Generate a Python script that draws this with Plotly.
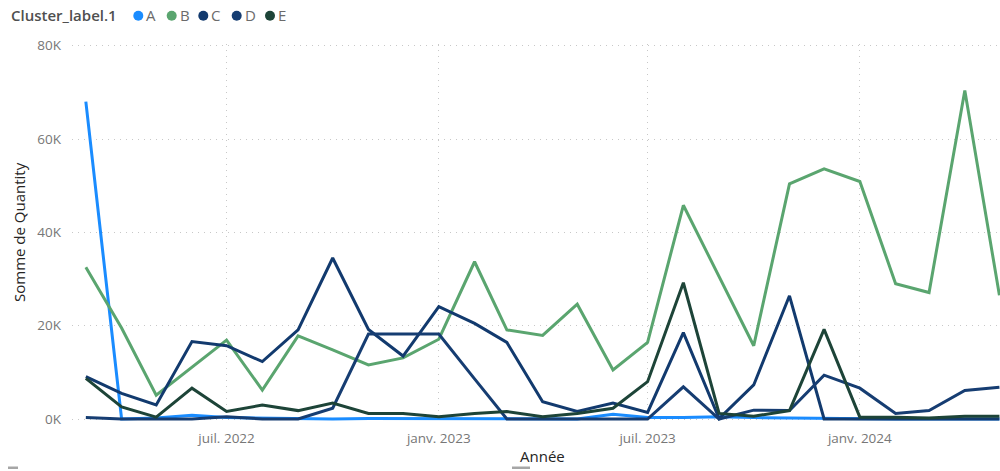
import plotly.graph_objects as go

# Monthly periods (first day of each month)
months = [
    "2022-03-01", "2022-04-01", "2022-05-01", "2022-06-01", "2022-07-01",
    "2022-08-01", "2022-09-01", "2022-10-01", "2022-11-01", "2022-12-01",
    "2023-01-01", "2023-02-01", "2023-03-01", "2023-04-01", "2023-05-01",
    "2023-06-01", "2023-07-01", "2023-08-01", "2023-09-01", "2023-10-01",
    "2023-11-01", "2023-12-01", "2024-01-01", "2024-02-01", "2024-03-01",
    "2024-04-01", "2024-05-01",
]

clusters = ["A", "B", "C", "D", "E"]

qty_a = [68000, 0, 200, 800, 300, 200, 100, 0, 100, 100, 0, 100, 100, 0, 0,
         1000, 300, 300, 500, 300, 200, 100, 0, 0, 0, 0, 0]
qty_b = [32500, 19500, 5100, 11200, 16900, 6200, 17800, 14800, 11600, 13100,
         17100, 33700, 19100, 17900, 24600, 10500, 16400, 45800, 30500, 15700,
         50400, 53600, 50900, 29000, 27100, 70400, 26500]
qty_c = [9100, 5500, 3000, 16600, 15700, 12300, 19100, 34500, 19200, 13500,
         24100, 20500, 16400, 3700, 1600, 3400, 1400, 18500, 100, 7300,
         26400, 0, 0, 0, 0, 0, 0]
qty_d = [300, 0, 0, 0, 500, 0, 0, 2300, 18200, 18200, 18200, 8600, 0, 0, 0,
         0, 0, 6900, 0, 1900, 1800, 9400, 6600, 1200, 1800, 6100, 6800]
qty_e = [8700, 2600, 400, 6600, 1600, 3000, 1800, 3400, 1200, 1200, 500, 1200,
         1600, 500, 1200, 2300, 8000, 29200, 1200, 600, 1800, 19200, 400, 400,
         200, 600, 600]

series = [qty_a, qty_b, qty_c, qty_d, qty_e]
colors = ["#1A8CFF", "#5AA56F", "#123A6E", "#163D72", "#1D4438"]

x_tick_vals = ["2022-07-01", "2023-01-01", "2023-07-01", "2024-01-01"]
x_tick_text = ["juil. 2022", "janv. 2023", "juil. 2023", "janv. 2024"]
y_tick_vals = [0, 20000, 40000, 60000, 80000]
y_tick_text = ["0K", "20K", "40K", "60K", "80K"]

FONT = "Segoe UI, Open Sans, sans-serif"
W, H = 1000, 471
M_L, M_R, M_T, M_B = 72, 0, 44, 50
PW, PH = W - M_L - M_R, H - M_T - M_B

fig = go.Figure()
for name, vals, col in zip(clusters, series, colors):
    fig.add_trace(go.Scatter(
        x=months, y=vals, name=name, mode="lines",
        line=dict(color=col, width=3),
        showlegend=False,
    ))


def px_x(px):
    return (px - M_L) / PW


def px_y(py):
    return (H - M_B - py) / PH


annotations = [
    dict(text="Cluster_label.1", x=px_x(9), y=px_y(15.5), xref="paper", yref="paper",
         xanchor="left", yanchor="middle", showarrow=False,
         font=dict(family=FONT, size=15, color="#4f4f4f", weight=600)),
]
shapes = []
legend_x = [138.3, 171.7, 203.3, 236.7, 270.0]
r = 5
for name, col, cx in zip(clusters, colors, legend_x):
    shapes.append(dict(type="circle", xref="paper", yref="paper",
                       x0=px_x(cx - r), x1=px_x(cx + r),
                       y0=px_y(15.7 + r), y1=px_y(15.7 - r),
                       fillcolor=col, line=dict(width=0)))
    annotations.append(dict(text=name, x=px_x(cx + 6), y=px_y(15.5),
                            xref="paper", yref="paper", xanchor="left",
                            yanchor="middle", showarrow=False,
                            font=dict(family=FONT, size=15, color="#6b6b6b")))

# scroll handles under the visual
for x0, x1 in [(8, 18), (512, 530)]:
    shapes.append(dict(type="rect", xref="paper", yref="paper",
                       x0=px_x(x0), x1=px_x(x1), y0=px_y(469), y1=px_y(466.5),
                       fillcolor="#a6a6a6", line=dict(width=0)))

annotations.append(dict(text="Année", x=px_x(542), y=px_y(456), xref="paper",
                        yref="paper", xanchor="center", yanchor="middle",
                        showarrow=False,
                        font=dict(family=FONT, size=15, color="#252423")))
annotations.append(dict(text="Somme de Quantity", x=px_x(19), y=px_y(232),
                        xref="paper", yref="paper", xanchor="center",
                        yanchor="middle", textangle=-90, showarrow=False,
                        font=dict(family=FONT, size=15, color="#252423")))

# y range: 0 sits at 419px, 80K at 45.7px
u_per_px = 80000 / (419 - 45.7)
y_lo = -(H - M_B - 419) * u_per_px
y_hi = 80000 + (45.7 - M_T) * u_per_px

fig.update_layout(
    width=W, height=H,
    margin=dict(l=M_L, r=M_R, t=M_T, b=M_B, pad=0),
    paper_bgcolor="white", plot_bgcolor="white",
    font=dict(family=FONT),
    annotations=annotations, shapes=shapes,
    xaxis=dict(
        type="date", range=["2022-02-17", "2024-05-01 12:00"],
        tickvals=x_tick_vals, ticktext=x_tick_text,
        showgrid=True, gridcolor="#c8c8c8", griddash="1px,5px", gridwidth=1,
        zeroline=False, showline=False, ticks="",
        tickfont=dict(family=FONT, size=13.5, color="#777777"),
        ticklabelstandoff=7,
    ),
    yaxis=dict(
        range=[y_lo, y_hi],
        tickvals=y_tick_vals, ticktext=y_tick_text,
        showgrid=True, gridcolor="#c8c8c8", griddash="1px,5px", gridwidth=1,
        zeroline=False, showline=False, ticks="",
        tickfont=dict(family=FONT, size=13.5, color="#777777"),
        ticklabelstandoff=10,
    ),
)

fig.write_html("out.html")
